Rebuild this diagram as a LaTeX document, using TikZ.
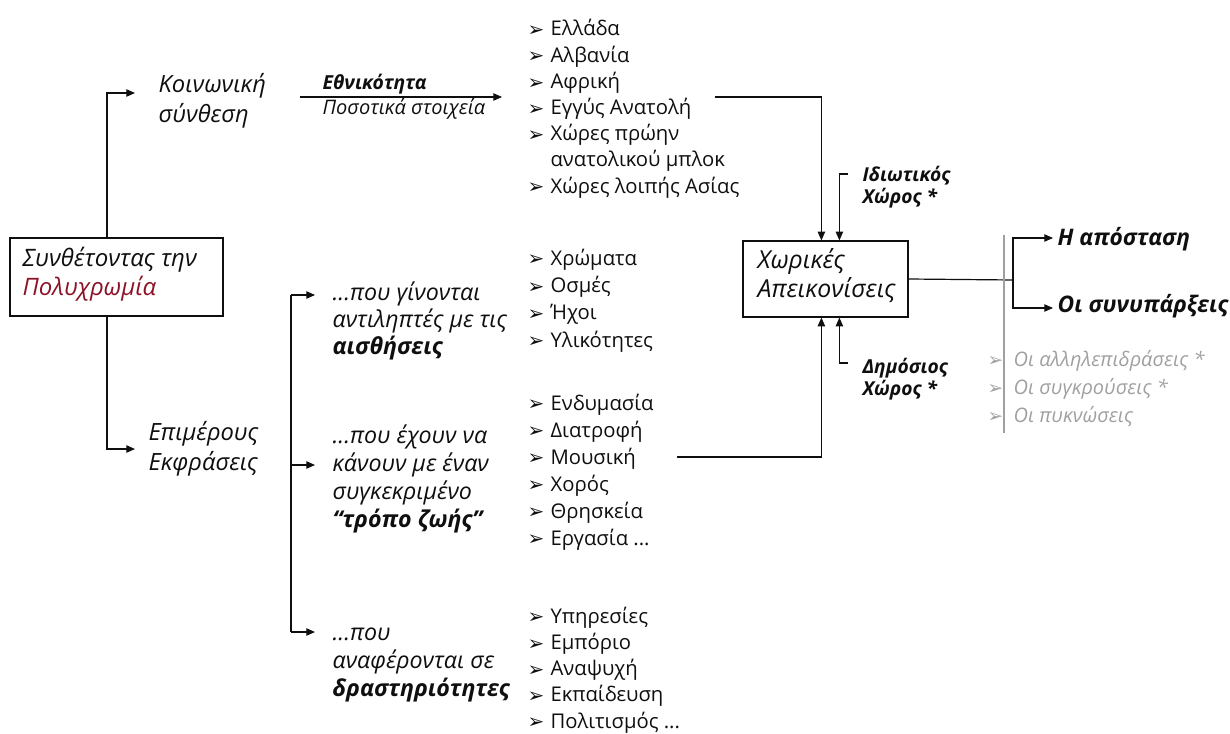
\documentclass[tikz,border=0pt]{standalone}
\usepackage{fontspec}
\setmainfont{Open Sans}
\newfontfamily\symf{DejaVu Sans}
\usetikzlibrary{arrows.meta,calc}
\definecolor{ink}{RGB}{15,15,15}
\definecolor{pred}{RGB}{140,18,40}
\definecolor{gtext}{RGB}{160,160,160}
\newcommand\fsz[2]{\fontsize{#1}{#2}\selectfont}
\newcommand\bul{\makebox[17.25pt][l]{\raisebox{-0.6pt}{\symf\fontsize{15pt}{15pt}\selectfont ➢}}}
\newcommand\gbul{\makebox[19.5pt][l]{\raisebox{-0.6pt}{\symf\fontsize{14pt}{14pt}\selectfont ➢}}}
\newcommand\stk[2]{\vtop{\baselineskip=#1\lineskiplimit=-30pt\lineskip=0pt\relax #2}}
\begin{document}
\begin{tikzpicture}[x=0.75pt,y=-0.75pt,
  line width=0.9pt,
  >={Triangle[length=6.5pt,width=5.5pt]},
  txt/.style={inner sep=0pt, anchor=base west, text=ink},
  itx/.style={txt, font=\itshape\fsz{17.8pt}{20pt}},
  phr/.style={txt, font=\itshape\fsz{17.4pt}{20pt}},
  lst/.style={txt, font=\fsz{15.2pt}{18pt}},
  frame/.style={draw=ink, line width=0.9pt, inner sep=0pt},
  conn/.style={draw=ink, line width=0.9pt},
  gry/.style={txt, text=gtext, font=\itshape\fsz{15pt}{18pt}}]
\useasboundingbox (0,0) rectangle (1230,734);

% main box
\node[frame, minimum width=159.75pt, minimum height=58.5pt] (root) at (116.5,277) {};
\node[txt, font=\itshape\fsz{18pt}{20pt}] (roottxt) at (22,267)
  {\stk{21pt}{\hbox{Συνθέτοντας την}\hbox{\color{pred}Πολυχρωμία}}};

% first level
\node[itx] (koin) at (158,93) {\stk{22.5pt}{\hbox{Κοινωνική}\hbox{σύνθεση}}};
\node[itx] (epim) at (148,440) {\stk{22.5pt}{\hbox{Επιμέρους}\hbox{Εκφράσεις}}};
\coordinate (kA) at (135,93);
\coordinate (kB) at (135,449);
\draw[conn,->] (root.north -| 107,0) |- (kA);
\draw[conn,->] (root.south -| 107,0) |- (kB);

% Ethnikotita line
\coordinate (e0) at (300,97);
\coordinate (e1) at (502,97);
\draw[conn,->] (e0) -- (e1);
\node[txt, font=\bfseries\itshape\fsz{14.5pt}{16pt}] (ethn) at (322,90) {\underline{Εθνικότητα}};
\node[txt, font=\itshape\fsz{15pt}{16pt}] (posot) at (322,115) {Ποσοτικά στοιχεία};

% list 1
\node[lst] (list1) at (527,36) {\stk{19.65pt}{%
  \hbox{\bul Ελλάδα}
  \hbox{\bul Αλβανία}
  \hbox{\bul Αφρική}
  \hbox{\bul Εγγύς Ανατολή}
  \hbox{\bul Χώρες πρώην}
  \hbox{\hspace{17.25pt}ανατολικού μπλοκ}
  \hbox{\bul Χώρες λοιπής Ασίας}}};

% bracket for sub-expressions
\coordinate (b1) at (291,295);
\coordinate (b2) at (291,465);
\coordinate (b3) at (291,632);
\coordinate (p1) at (315,295);
\coordinate (p2) at (315,465);
\coordinate (p3) at (315,632);
\draw[conn] (b1) -- (b3);
\draw[conn,->] (b1) -- (p1);
\draw[conn,->] (b2) -- (p2);
\draw[conn,->] (b3) -- (p3);

\node[phr] (phr1) at (332,300) {\stk{20.25pt}{%
  \hbox{...που γίνονται}
  \hbox{αντιληπτές με τις}
  \hbox{\bfseries αισθήσεις}}};
\node[phr] (phr2) at (332,443) {\stk{21pt}{%
  \hbox{...που έχουν να}
  \hbox{κάνουν με έναν}
  \hbox{συγκεκριμένο}
  \hbox{\bfseries “τρόπο ζωής”}}};
\node[phr] (phr3) at (332,640) {\stk{21pt}{%
  \hbox{...που}
  \hbox{αναφέρονται σε}
  \hbox{\bfseries δραστηριότητες}}};

\node[lst] (list2) at (527,265) {\stk{20.5pt}{%
  \hbox{\bul Χρώματα}
  \hbox{\bul Οσμές}
  \hbox{\bul Ήχοι}
  \hbox{\bul Υλικότητες}}};
\node[lst] (list3) at (527,410) {\stk{20.25pt}{%
  \hbox{\bul Ενδυμασία}
  \hbox{\bul Διατροφή}
  \hbox{\bul Μουσική}
  \hbox{\bul Χορός}
  \hbox{\bul Θρησκεία}
  \hbox{\bul Εργασία ...}}};
\node[lst] (list4) at (527,623) {\stk{19.7pt}{%
  \hbox{\bul Υπηρεσίες}
  \hbox{\bul Εμπόριο}
  \hbox{\bul Αναψυχή}
  \hbox{\bul Εκπαίδευση}
  \hbox{\bul Πολιτισμός ...}}};

% spatial representations box
\node[frame, minimum width=123.75pt, minimum height=57pt] (box2) at (825.5,279) {};
\node[txt, font=\itshape\fsz{18.6pt}{20pt}] (box2txt) at (757,268)
  {\stk{21.75pt}{\hbox{Χωρικές}\hbox{Απεικονίσεις}}};

\coordinate (l1) at (715,97);
\coordinate (l2) at (677,457);
\coordinate (t1) at (848,174);
\coordinate (t2) at (848,363);
\draw[conn,->] (l1) -| ($(box2.north west)+(79,0)$);
\draw[conn,->] (t1) -| ($(box2.north west)+(97,0)$);
\draw[conn,->] (l2) -| ($(box2.south west)+(79,0)$);
\draw[conn,->] (t2) -| ($(box2.south west)+(97,0)$);

\node[txt, font=\bfseries\itshape\fsz{14.4pt}{16pt}] (idiot) at (862,182)
  {\stk{16.5pt}{\hbox{Ιδιωτικός}\hbox{Χώρος *}}};
\node[txt, font=\bfseries\itshape\fsz{14.4pt}{16pt}] (dimos) at (862,373)
  {\stk{16.5pt}{\hbox{Δημόσιος}\hbox{Χώρος *}}};

% outputs
\coordinate (r0) at (1013,280);
\coordinate (r1) at (1053,238);
\coordinate (r2) at (1053,308);
\draw[conn] (box2.east) -- (r0);
\draw[conn,->] (r0) |- (r1);
\draw[conn,->] (r0) |- (r2);
\node[txt, font=\bfseries\itshape\fsz{17.1pt}{19pt}] (apost) at (1057,245) {Η απόσταση};
\node[txt, font=\bfseries\itshape\fsz{17.1pt}{19pt}] (synyp) at (1057,312) {Οι συνυπάρξεις};

% grey list
\coordinate (g0) at (1004,235);
\coordinate (g1) at (1004,433);
\draw[draw=gtext, line width=0.8pt] (g0) -- (g1);
\node[gry] (glist) at (987,366) {\stk{21pt}{%
  \hbox{\gbul Οι αλληλεπιδράσεις *}
  \hbox{\gbul Οι συγκρούσεις *}
  \hbox{\gbul Οι πυκνώσεις}}};
\end{tikzpicture}
\end{document}
